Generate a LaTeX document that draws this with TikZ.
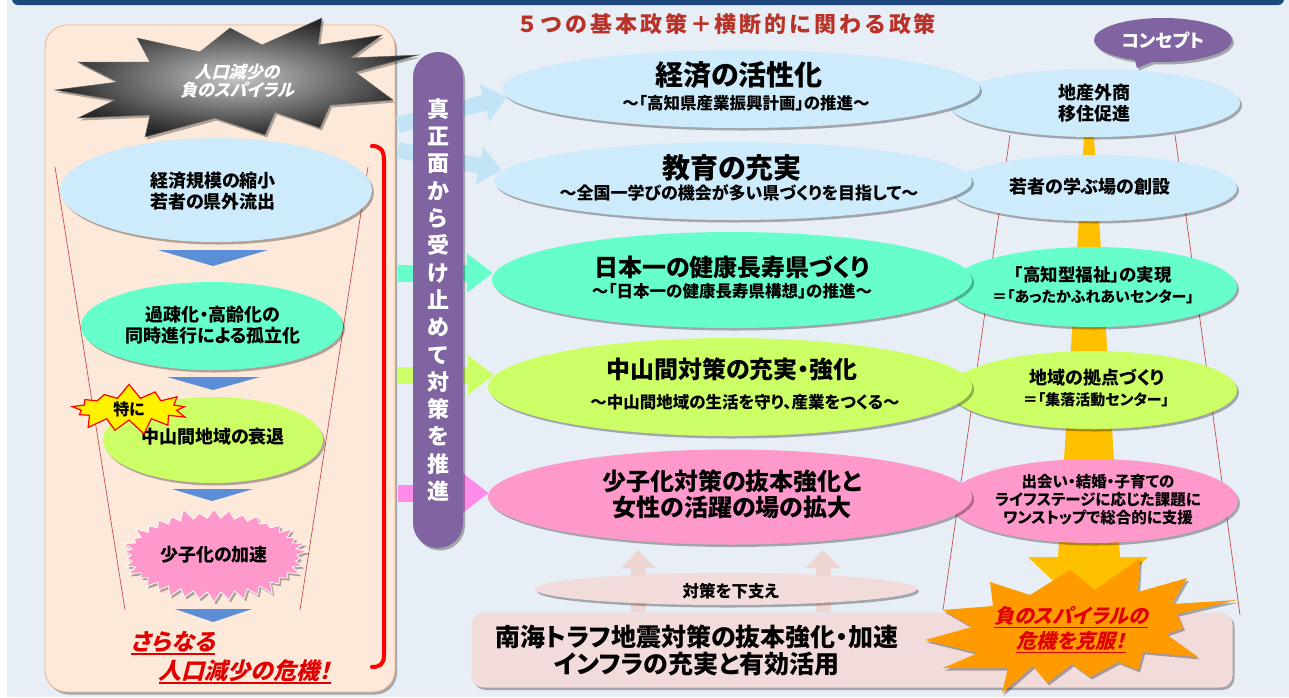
\documentclass[tikz,border=0pt]{standalone}
\usepackage{fontspec}
\setmainfont{Noto Sans CJK JP}[RawFeature=+palt]
\newfontfamily\jpi{Noto Sans CJK JP}[FakeSlant=0.25,RawFeature=+palt]
\newfontfamily\jpsp{Noto Sans CJK JP}[LetterSpace=13]
\newcommand\myul[1]{\setbox0\hbox{#1}\rlap{\vrule width\wd0 height -2.6pt depth 4.3pt}\box0}
\usetikzlibrary{shapes.geometric,shapes.symbols,shapes.callouts,arrows.meta,shadows,calc}

\definecolor{bgc}{HTML}{E7EEF6}
\definecolor{navy}{HTML}{1F497D}
\definecolor{peach}{HTML}{FDE9D9}
\definecolor{peachb}{HTML}{F4B183}
\definecolor{lblue}{HTML}{CDEBFA}
\definecolor{mint}{HTML}{66FFCC}
\definecolor{ylg}{HTML}{CCFF66}
\definecolor{pinkc}{HTML}{FF99CC}
\definecolor{pinka}{HTML}{FF8CEB}
\definecolor{purp}{HTML}{8064A2}
\definecolor{tri}{HTML}{5B8ED6}
\definecolor{gold}{HTML}{FFC000}
\definecolor{orng}{HTML}{FF9A00}
\definecolor{ttl}{HTML}{B83228}
\definecolor{beige}{HTML}{F2DCDB}
\definecolor{arrb}{HTML}{C3E4F6}
\definecolor{redt}{HTML}{E00000}
\definecolor{fline}{HTML}{C0504D}
\definecolor{upar}{HTML}{EDD5D1}

\begin{document}
\begin{tikzpicture}[x=1pt,y=-1pt,
  shd/.style={drop shadow={shadow xshift=2pt,shadow yshift=-2.5pt,opacity=0.3,fill=black}},
  ell/.style={ellipse,inner sep=0pt,draw=none,shd},
  ltx/.style={align=center,inner sep=0pt,font=\fontsize{18}{21}\selectfont\bfseries},
  mtt/.style={inner sep=0pt,font=\fontsize{28}{30}\selectfont\bfseries},
  mtb/.style={inner sep=0pt,align=center,font=\fontsize{24}{26}\selectfont\bfseries},
  msb/.style={inner sep=0pt,font=\fontsize{16.5}{18}\selectfont\bfseries},
  ctx/.style={inner sep=0pt,align=center,font=\fontsize{18}{21}\selectfont\bfseries},
  csm/.style={inner sep=0pt,align=center,font=\fontsize{15}{18}\selectfont\bfseries},
  rtx/.style={inner sep=0pt,text=redt,font=\jpi\fontsize{23}{26}\selectfont\bfseries},
  barr/.style={line width=16pt,-{Triangle[length=23pt 0 0,width=37pt 0 0]},arrb},
  harr/.style={line width=17pt,-{Triangle[length=26pt 0 0,width=38pt 0 0]}},
  uarr/.style={line width=15pt,-{Triangle[length=18pt 0 0,width=34pt 0 0]},upar},
  fl/.style={fline,line width=0.7pt},
]
\useasboundingbox (0,0) rectangle (1289,697);
% background
\fill[white] (0,0) rectangle (1289,697);
\fill[bgc] (7,0) rectangle (1289,697);
\fill[navy,rounded corners=6pt] (12,-12) rectangle (1284,5);
\node[inner sep=0pt,text=ttl,font=\jpsp\fontsize{22}{22}\selectfont\bfseries] (title) at (726,24) {５つの基本政策＋横断的に関わる政策};

% left panel
\draw[peachb,fill=peach,line width=0.8pt,rounded corners=22pt,shd] (45,25) rectangle (395,692);
\draw[fl] (55,167) -- (125,610);
\draw[fl] (368,167) -- (300,610);

\node[ell,fill=lblue,minimum width=312pt,minimum height=104pt] (L1) at (216,190) {};
\node[ltx] (L1t) at (213,191) {経済規模の縮小\\若者の県外流出};
\fill[tri] (158,250) -- (268,250) -- (213,266) -- cycle;
\node[ell,fill=mint,minimum width=262pt,minimum height=88pt] (L2) at (212,326) {};
\node[ltx] (L2t) at (213,325) {過疎化・高齢化の\\同時進行による孤立化};
\fill[tri] (167,377) -- (260,377) -- (213,390) -- cycle;
\node[ell,fill=ylg,minimum width=220pt,minimum height=86pt] (L3) at (213,440) {};
\node[ltx] (L3t) at (213,437) {中山間地域の衰退};
\node[starburst,starburst points=13,starburst point height=15pt,random starburst=7,fill=yellow,draw=red,line width=1.2pt,minimum width=126pt,minimum height=52pt,inner sep=0pt,font=\fontsize{16}{18}\selectfont\bfseries] (tok) at (129,409) {特に};
\fill[tri] (172,489) -- (253,489) -- (212,501) -- cycle;
\node[starburst,starburst points=38,starburst point height=12pt,fill=pinkc,draw=white,line width=0.8pt,minimum width=190pt,minimum height=98pt,inner sep=0pt,shd,font=\fontsize{18}{21}\selectfont\bfseries] (L4) at (214,555) {少子化の加速};
\fill[tri] (175,609) -- (252,609) -- (213,622) -- cycle;
\node[rtx] (r1) at (173,643) {\myul{さらなる}};
\node[rtx] (r2) at (245,672) {\myul{人口減少の危機！}};
\draw[red,line width=4pt,line cap=round] (372,146) .. controls (380,146) and (384,150) .. (384,160) -- (384,655) .. controls (384,664) and (380,667) .. (372,667);

% right funnel and gold arrow
\draw[fl] (1010,135) -- (943,610);
\draw[fl] (1175,135) -- (1240,615);
\fill[gold] (1084,137) -- (1094,137) -- (1120,557) -- (1148,557) -- (1089,615) -- (1028,557) -- (1058,557) -- cycle;

% concept ellipses
\node[ell,fill=lblue,minimum width=292pt,minimum height=68pt] (c1) at (1094,103) {};
\node[ctx] (c1t) at (1094,103) {地産外商\\移住促進};
\node[ell,fill=lblue,minimum width=288pt,minimum height=66pt] (c2) at (1093,188) {};
\node[ctx] (c2t) at (1090,187) {若者の学ぶ場の創設};
\node[ell,fill=mint,minimum width=288pt,minimum height=80pt] (c3) at (1093,287) {};
\node[ctx,font=\fontsize{17.5}{20}\selectfont\bfseries] (c3a) at (1093,275) {「高知型福祉」の実現};
\node[csm] (c3b) at (1093,297) {＝「あったかふれあいセンター」};
\node[ell,fill=ylg,minimum width=288pt,minimum height=78pt] (c4) at (1093,390) {};
\node[ctx] (c4a) at (1097,378) {地域の拠点づくり};
\node[csm] (c4b) at (1096,400) {＝「集落活動センター」};
\node[ell,fill=pinkc,minimum width=290pt,minimum height=84pt] (c5) at (1093,501) {};
\node[csm,font=\fontsize{15.5}{18}\selectfont\bfseries] (c5t) at (1098,500) {出会い・結婚・子育ての\\ライフステージに応じた課題に\\ワンストップで総合的に支援};
\node[ellipse callout,callout absolute pointer={(1137,68)},fill=purp,text=white,minimum width=138pt,minimum height=44pt,inner sep=0pt,shd,font=\fontsize{18}{20}\selectfont\bfseries] (cpt) at (1163,40) {コンセプト};

% main ellipses
\node[ell,fill=lblue,minimum width=478pt,minimum height=78pt] (m1) at (741,89) {};
\node[mtt] (m1a) at (739,75) {経済の活性化};
\node[msb] (m1b) at (746,103) {～「高知県産業振興計画」の推進～};
\node[ell,fill=lblue,minimum width=478pt,minimum height=78pt] (m2) at (733,181) {};
\node[mtt] (m2a) at (732,168) {教育の充実};
\node[msb,font=\fontsize{17}{18}\selectfont\bfseries] (m2b) at (739,193) {～全国一学びの機会が多い県づくりを目指して～};
\node[ell,fill=mint,minimum width=480pt,minimum height=96pt] (m3) at (732,280) {};
\node[mtb] (m3a) at (732,267) {日本一の健康長寿県づくり};
\node[msb] (m3b) at (732,291) {～「日本一の健康長寿県構想」の推進～};
\node[ell,fill=ylg,minimum width=484pt,minimum height=98pt] (m4) at (730,387) {};
\node[mtb] (m4a) at (732,369) {中山間対策の充実・強化};
\node[msb] (m4b) at (745,402) {～中山間地域の生活を守り、産業をつくる～};
\node[ell,fill=pinkc,minimum width=484pt,minimum height=95pt] (m5) at (730,497) {};
\node[mtb] (m5t) at (732,494) {少子化対策の抜本強化と\\女性の活躍の場の拡大};

% arrows from the bar
\coordinate (a1s) at (398,125);
\coordinate (a2s) at (398,150);
\coordinate (t1) at ($(m1.west)+(5,8)$);
\coordinate (t2) at ($(m2.west)+(8,-11)$);
\coordinate (t3) at ($(m3.west)+(1,-7)$);
\coordinate (t4) at ($(m4.west)+(6,-12)$);
\coordinate (t5) at ($(m5.west)+(1,-4)$);
\draw[barr] (a1s) -- (t1);
\draw[barr] (a2s) -- (t2);
\draw[harr,mint] (t3 -| a1s) -- (t3);
\draw[harr,ylg] (t4 -| a1s) -- (t4);
\draw[harr,pinka] (t5 -| a1s) -- (t5);

% purple bar
\node[rectangle,rounded corners=25pt,fill=purp,minimum width=50pt,minimum height=496pt,inner sep=0pt,text=white,align=center,shd,font=\fontsize{22}{27.3}\selectfont\bfseries] (bar) at (438,300) {真\\正\\面\\か\\ら\\受\\け\\止\\め\\て\\対\\策\\を\\推\\進};

% grey starburst
\path[shd,draw=black!60,line width=0.5pt,inner color=gray!45,outer color=black!85]
 (55,90) -- (118,82) -- (78,62) -- (150,62) -- (137,38) -- (200,52) -- (230,28) -- (262,45) -- (322,18) -- (318,45) -- (382,35) -- (350,58) -- (418,55) -- (355,72) -- (393,100) -- (330,105) -- (320,128) -- (275,112) -- (265,135) -- (215,118) -- (145,137) -- (150,115) -- (78,118) -- (115,100) -- cycle;
\node[inner sep=0pt,align=center,text=white,font=\jpi\fontsize{17}{18}\selectfont\bfseries] (gst) at (237,81) {人口減少の\\負のスパイラル};

% bottom
\node[rectangle,rounded corners=12pt,fill=beige,minimum width=761pt,minimum height=75pt,inner sep=0pt,shd] (bb) at (852,650) {};
\coordinate (u1) at (638,550);
\coordinate (u2) at (823,550);
\draw[uarr] (bb.north -| u1) -- (u1);
\draw[uarr] (bb.north -| u2) -- (u2);
\node[ell,fill=beige,minimum width=382pt,minimum height=32pt] (sup) at (726,589) {};
\node[msb] (supt) at (731,591) {対策を下支え};
\node[inner sep=0pt,align=center,font=\fontsize{25}{27}\selectfont\bfseries] (bbt) at (697,650) {南海トラフ地震対策の抜本強化・加速\\インフラの充実と有効活用};

% orange starburst
\path[shd,fill=orng]
 (943,610) -- (993,606) -- (990,582) -- (1030,595) -- (1070,570) -- (1095,590) -- (1140,558) -- (1138,592) -- (1187,578) -- (1172,604) -- (1237,600) -- (1177,614) -- (1183,628) -- (1166,634) -- (1198,657) -- (1143,652) -- (1138,670) -- (1118,662) -- (1090,677) -- (1072,664) -- (1047,683) -- (1033,666) -- (1002,693) -- (1008,668) -- (943,668) -- (978,653) -- (925,640) -- (972,627) -- cycle;
\node[inner sep=0pt,align=center,text=redt,font=\jpi\fontsize{20}{25}\selectfont\bfseries] (ost) at (1071,630) {\myul{負のスパイラルの}\\\myul{危機を克服！}};
\end{tikzpicture}
\end{document}
